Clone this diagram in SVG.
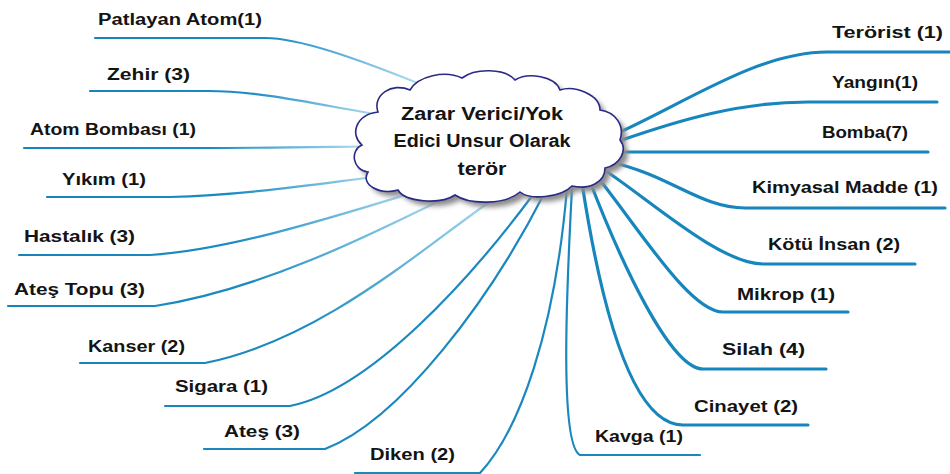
<svg xmlns="http://www.w3.org/2000/svg" width="950" height="474" viewBox="0 0 950 474">
<defs>
<style>
.lbl{font-family:"Liberation Sans","DejaVu Sans",Arial,sans-serif;font-size:16px;font-weight:bold;fill:#141414;}
.ctr{font-family:"Liberation Sans","DejaVu Sans",Arial,sans-serif;font-size:18px;font-weight:bold;fill:#141414;text-anchor:middle;}
.cl{fill:none;stroke:url(#fadeL);stroke-width:2.2;stroke-linecap:round;}
.cls{fill:none;stroke:#1a88bf;stroke-width:2.2;stroke-linecap:round;}
.cr{fill:none;stroke:#1786bd;stroke-width:3.2;stroke-linecap:round;}
</style>
<linearGradient id="fadeL" x1="0" y1="0" x2="1" y2="0">
<stop offset="0" stop-color="#1684bb"/>
<stop offset="0.55" stop-color="#1a8bc2"/>
<stop offset="1" stop-color="#a9d9ef"/>
</linearGradient>
<filter id="blur" x="-10%" y="-10%" width="120%" height="120%"><feGaussianBlur stdDeviation="2.5"/></filter>
<path id="cloud" d="M378,112 C372,95 392,82 410,90 C418,76 445,70 462,78 C475,68 505,68 515,80 C528,72 555,76 560,90 C575,85 600,95 600,110 C615,112 625,125 620,140 C628,150 620,165 605,168 C605,182 590,190 572,186 C560,198 530,200 520,192 C505,205 470,205 455,195 C440,205 405,202 398,190 C380,195 360,185 368,172 C352,170 350,150 362,145 C350,135 355,115 378,112 Z"/>
</defs>
<rect width="950" height="474" fill="#ffffff"/>
<g id="connectors">
<path class="cl" d="M95,38 H265 C300,38 360,60 415,82"/>
<path class="cl" d="M90,91 H208 C260,91 320,105 375,114"/>
<path class="cl" d="M24,148 H200 C260,148 320,147 362,146.5"/>
<path class="cl" d="M47,197 H170 C250,195 330,182 382,176"/>
<path class="cl" d="M19,255 H150 C230,250 340,215 412,193"/>
<path class="cl" d="M8,306 H155 C260,290 370,235 445,198"/>
<path class="cl" d="M80,363 H205 C320,340 420,250 495,198"/>
<path class="cls" d="M165,406 H290 C370,390 470,280 535,192"/>
<path class="cls" d="M204,449 H325 C400,420 490,300 545,192"/>
<path class="cls" d="M355,473 H480 C520,430 555,330 567,188"/>
<path class="cls" d="M700,455 H580 C560,445 566,300 572,188"/>
<path class="cr" d="M950,52 H827 C760,52 690,100 620,132"/>
<path class="cr" d="M937,102 H808 C740,102 680,120 622,140"/>
<path class="cr" d="M928,152 H622"/>
<path class="cr" d="M945,208 H745 C700,208 670,175 610,162"/>
<path class="cr" d="M915,264 H763 C720,264 650,200 603,169"/>
<path class="cr" d="M848,312 H723 C690,312 640,230 596,175"/>
<path class="cr" d="M826,369 H703 C670,369 620,260 589,179"/>
<path class="cr" d="M808,425 H683 C630,425 600,300 582,183"/>
</g>
<g id="center">
<use href="#cloud" transform="translate(5,5)" fill="#8c8c8c" filter="url(#blur)"/>
<use href="#cloud" fill="#ffffff" stroke="#2a2a86" stroke-width="1.6"/>
<text class="ctr" x="482" y="120" textLength="162" lengthAdjust="spacingAndGlyphs">Zarar Verici/Yok</text>
<text class="ctr" x="482" y="147" textLength="177" lengthAdjust="spacingAndGlyphs">Edici Unsur Olarak</text>
<text class="ctr" x="482" y="175" textLength="49" lengthAdjust="spacingAndGlyphs">terör</text>
</g>
<g id="n-patlayan"><text class="lbl" x="98" y="25" textLength="164" lengthAdjust="spacingAndGlyphs">Patlayan Atom(1)</text></g>
<g id="n-zehir"><text class="lbl" x="107" y="80" textLength="83" lengthAdjust="spacingAndGlyphs">Zehir (3)</text></g>
<g id="n-atombombasi"><text class="lbl" x="30" y="135" textLength="166" lengthAdjust="spacingAndGlyphs">Atom Bombası (1)</text></g>
<g id="n-yikim"><text class="lbl" x="62" y="185" textLength="84" lengthAdjust="spacingAndGlyphs">Yıkım (1)</text></g>
<g id="n-hastalik"><text class="lbl" x="24" y="242" textLength="111" lengthAdjust="spacingAndGlyphs">Hastalık (3)</text></g>
<g id="n-atestopu"><text class="lbl" x="14" y="295" textLength="131" lengthAdjust="spacingAndGlyphs">Ateş Topu (3)</text></g>
<g id="n-kanser"><text class="lbl" x="88" y="352" textLength="97" lengthAdjust="spacingAndGlyphs">Kanser (2)</text></g>
<g id="n-sigara"><text class="lbl" x="175" y="392" textLength="93" lengthAdjust="spacingAndGlyphs">Sigara (1)</text></g>
<g id="n-ates"><text class="lbl" x="224" y="437" textLength="76" lengthAdjust="spacingAndGlyphs">Ateş (3)</text></g>
<g id="n-diken"><text class="lbl" x="370" y="460" textLength="85" lengthAdjust="spacingAndGlyphs">Diken (2)</text></g>
<g id="n-kavga"><text class="lbl" x="595" y="442" textLength="88" lengthAdjust="spacingAndGlyphs">Kavga (1)</text></g>
<g id="n-terorist"><text class="lbl" x="832" y="38" textLength="111" lengthAdjust="spacingAndGlyphs">Terörist (1)</text></g>
<g id="n-yangin"><text class="lbl" x="832" y="88" textLength="86" lengthAdjust="spacingAndGlyphs">Yangın(1)</text></g>
<g id="n-bomba"><text class="lbl" x="822" y="138" textLength="86" lengthAdjust="spacingAndGlyphs">Bomba(7)</text></g>
<g id="n-kimyasal"><text class="lbl" x="752" y="193" textLength="186" lengthAdjust="spacingAndGlyphs">Kimyasal Madde (1)</text></g>
<g id="n-kotuinsan"><text class="lbl" x="768" y="250" textLength="132" lengthAdjust="spacingAndGlyphs">Kötü İnsan (2)</text></g>
<g id="n-mikrop"><text class="lbl" x="737" y="300" textLength="98" lengthAdjust="spacingAndGlyphs">Mikrop (1)</text></g>
<g id="n-silah"><text class="lbl" x="722" y="355" textLength="83" lengthAdjust="spacingAndGlyphs">Silah (4)</text></g>
<g id="n-cinayet"><text class="lbl" x="694" y="412" textLength="104" lengthAdjust="spacingAndGlyphs">Cinayet (2)</text></g>
</svg>
